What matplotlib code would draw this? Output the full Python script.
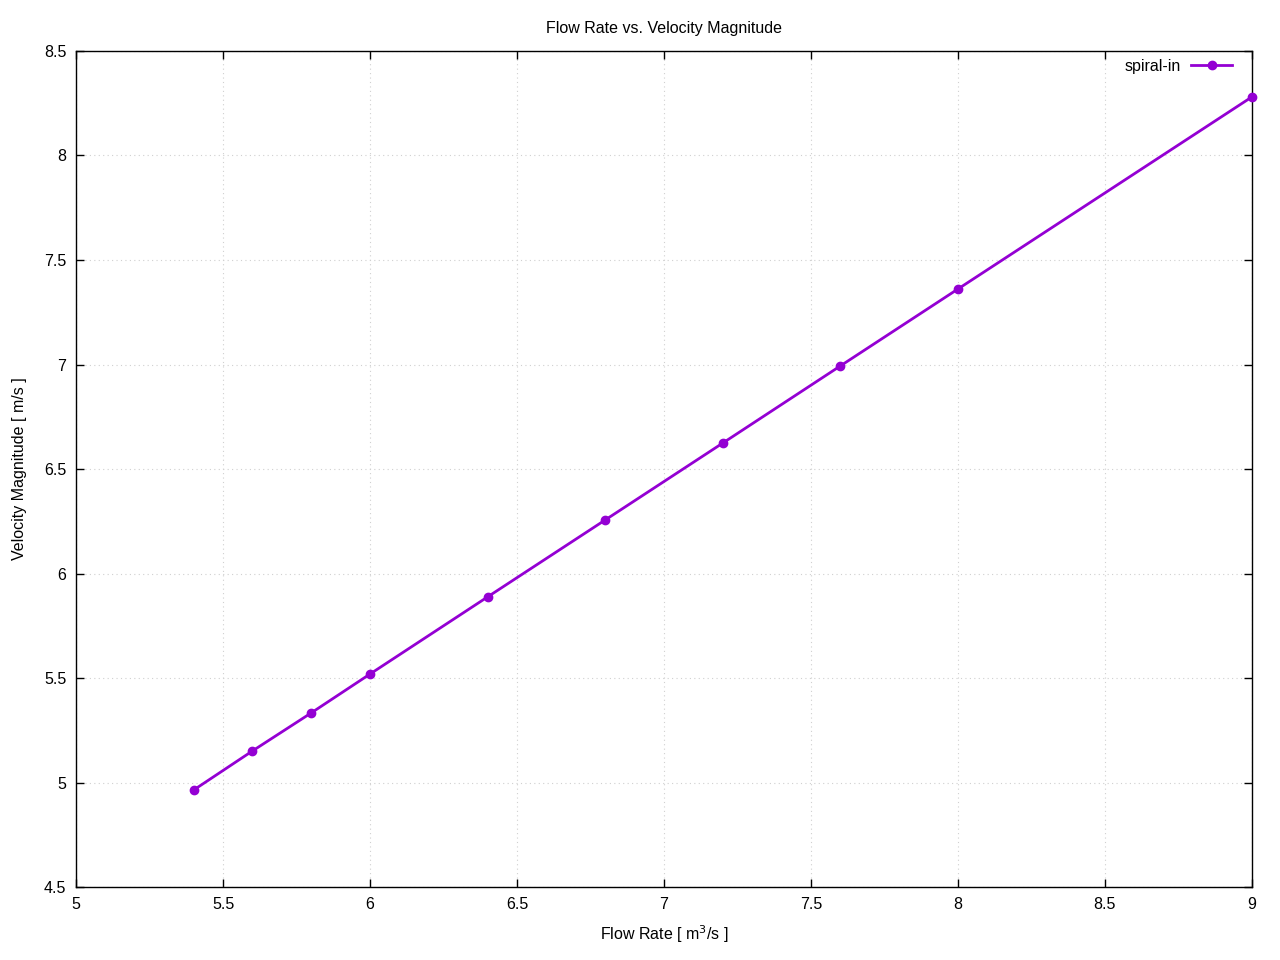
import numpy as np
import matplotlib.pyplot as plt

plt.rcParams['font.family'] = ['Liberation Sans', 'DejaVu Sans']

# datos
caudal = [5.4, 5.6, 5.8, 6.0, 6.4, 6.8, 7.2, 7.6, 8.0, 9.0]
velocidad = [4.964, 5.151, 5.333, 5.519, 5.888, 6.256, 6.624, 6.993, 7.361, 8.280]

xticks = [5, 5.5, 6, 6.5, 7, 7.5, 8, 8.5, 9]
xticklabels = ['5', '5.5', '6', '6.5', '7', '7.5', '8', '8.5', '9']
yticks = [4.5, 5, 5.5, 6, 6.5, 7, 7.5, 8, 8.5]
yticklabels = ['4.5', '5', '5.5', '6', '6.5', '7', '7.5', '8', '8.5']

fig = plt.figure(figsize=(12.8, 9.6), dpi=100)
ax = fig.add_axes([0.0594, 0.076, 0.9186, 0.8709])

ax.plot(caudal, velocidad, color='#9400D3', linewidth=2.0, marker='o',
        markersize=6, label='spiral-in', clip_on=False, zorder=3)

ax.set_xlim(5, 9)
ax.set_ylim(4.5, 8.5)
ax.set_xticks(xticks)
ax.set_xticklabels(xticklabels)
ax.set_yticks(yticks)
ax.set_yticklabels(yticklabels)
ax.tick_params(direction='in', top=True, right=True, length=6, width=1,
               labelsize=11.5, pad=7)
ax.grid(True, color='#d0d0d0', linestyle=(0, (1, 3)), linewidth=0.8)
for s in ax.spines.values():
    s.set_linewidth(1)

ax.set_xlabel('Flow Rate [ m$^3$/s ]', fontsize=11.5, labelpad=8)
ax.set_ylabel('Velocity Magnitude [ m/s ]', fontsize=11.5, labelpad=12)
ax.set_title('Flow Rate vs. Velocity Magnitude', fontsize=11.5, pad=13)

leg = ax.legend(loc='upper right', frameon=False, markerfirst=False,
                fontsize=11.5, handlelength=2.6, handletextpad=0.6,
                borderaxespad=0.3, bbox_to_anchor=(0.993, 1.004))

fig.savefig('out.png', dpi=100)
